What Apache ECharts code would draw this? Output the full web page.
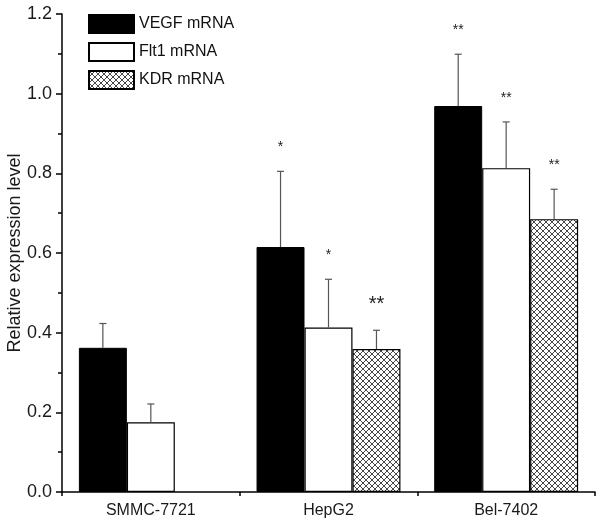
<!DOCTYPE html>
<html><head><meta charset="utf-8">
<script src="https://cdn.jsdelivr.net/npm/echarts@6/dist/echarts.min.js"></script>
<style>html,body{margin:0;padding:0;background:#fff}#c{width:600px;height:525px}</style>
</head><body><div id="c"></div>
<script>
var categories = ['SMMC-7721', 'HepG2', 'Bel-7402'];
var seriesNames = ['VEGF mRNA', 'Flt1 mRNA', 'KDR mRNA'];
var vegf = [0.362, 0.615, 0.969];
var flt1 = [0.175, 0.413, 0.813];
var kdr = [null, 0.359, 0.685];
var vegfErr = [0.061, 0.190, 0.130];
var flt1Err = [0.046, 0.121, 0.116];
var kdrErr = [null, 0.047, 0.075];
var vegfSig = ['', '*', '**'];
var flt1Sig = ['', '*', '**'];
var kdrSig = ['', '**', '**'];
var yTicks = [0.0, 0.2, 0.4, 0.6, 0.8, 1.0, 1.2];

function hatch() {
  var c = document.createElement('canvas');
  c.width = 6; c.height = 6;
  var g = c.getContext('2d');
  g.fillStyle = '#fff'; g.fillRect(0, 0, 6, 6);
  g.strokeStyle = '#333'; g.lineWidth = 0.9;
  g.beginPath();
  g.moveTo(0, 0); g.lineTo(6, 6);
  g.moveTo(6, 0); g.lineTo(0, 6);
  g.stroke();
  return c;
}
var pattern = { image: hatch(), repeat: 'repeat' };

var CAT_GAP = 0.19;
var font = 'Liberation Sans, Arial, sans-serif';

function errSeries(vals, errs, sigs, k) {
  var data = [];
  for (var i = 0; i < vals.length; i++) {
    if (vals[i] == null) continue;
    data.push([i, vals[i], errs[i], sigs[i]]);
  }
  return {
    type: 'custom', xAxisIndex: 0, yAxisIndex: 0, z: 5, silent: true,
    data: data,
    renderItem: function (params, api) {
      var ci = api.value(0), v = api.value(1), e = api.value(2);
      var sig = data[params.dataIndex][3];
      var band = api.size([1, 0])[0];
      var bw = band * (1 - CAT_GAP) / 3;
      var base = api.coord([ci, v]);
      var top = api.coord([ci, v + e]);
      var x = base[0] + (k - 1) * bw;
      var children = [
        { type: 'line', shape: { x1: x, y1: base[1], x2: x, y2: top[1] }, style: { stroke: '#555', lineWidth: 1.2 } },
        { type: 'line', shape: { x1: x - 3.5, y1: top[1], x2: x + 3.5, y2: top[1] }, style: { stroke: '#555', lineWidth: 1.2 } }
      ];
      if (sig) {
        var big = (k === 2 && ci === 1);
        children.push({ type: 'text', style: { text: sig, x: x, y: top[1] - (big ? 26 : 24), align: 'center', verticalAlign: 'middle', fill: '#222', font: (big ? '20px ' : '14px ') + font } });
      }
      return { type: 'group', children: children };
    }
  };
}

var chart = echarts.init(document.getElementById('c'), null, { renderer: 'canvas' });
chart.setOption({
  animation: false,
  backgroundColor: '#fff',
  textStyle: { fontFamily: font },
  grid: { left: 62, right: 5, top: 14, bottom: 33, containLabel: false, outerBoundsMode: 'none' },
  legend: {
    orient: 'vertical', left: 83, top: 9, itemWidth: 45, itemHeight: 18, itemGap: 8,
    icon: 'rect',
    textStyle: { fontSize: 16, color: '#111', fontFamily: font },
    data: seriesNames
  },
  xAxis: [{
    type: 'category', data: categories,
    axisLine: { lineStyle: { color: '#000', width: 1.5 } },
    axisTick: { alignWithLabel: true, length: 6, lineStyle: { color: '#000', width: 1.5 } },
    axisLabel: { fontSize: 16, color: '#1a1a1a', margin: 11, fontFamily: font }
  }, {
    type: 'category', data: categories, position: 'bottom', offset: 0,
    axisLine: { show: false },
    axisTick: { show: true, length: 4, lineStyle: { color: '#000', width: 1.5 } },
    axisLabel: { show: false }
  }],
  yAxis: {
    type: 'value', min: 0, max: 1.2, interval: 0.2,
    name: 'Relative expression level', nameLocation: 'middle', nameGap: 38, nameMoveOverlap: false,
    nameTextStyle: { fontSize: 18, color: '#1a1a1a', fontFamily: font },
    axisLine: { show: true, lineStyle: { color: '#000', width: 1.5 } },
    axisTick: { show: true, length: 6, lineStyle: { color: '#000', width: 1.5 } },
    minorTick: { show: true, splitNumber: 2, length: 4, lineStyle: { color: '#000', width: 1.5 } },
    splitLine: { show: false },
    axisLabel: { fontSize: 18, color: '#1a1a1a', margin: 10, fontFamily: font, formatter: function (v) { return v.toFixed(1); } }
  },
  series: [
    { name: seriesNames[0], type: 'bar', data: vegf, barGap: '0%', barCategoryGap: (CAT_GAP * 100) + '%',
      itemStyle: { color: '#000', borderColor: '#000', borderWidth: 1 } },
    { name: seriesNames[1], type: 'bar', data: flt1, barGap: '0%', barCategoryGap: (CAT_GAP * 100) + '%',
      itemStyle: { color: '#fff', borderColor: '#000', borderWidth: 1.2 } },
    { name: seriesNames[2], type: 'bar', data: kdr, barGap: '0%', barCategoryGap: (CAT_GAP * 100) + '%',
      itemStyle: { color: pattern, borderColor: '#000', borderWidth: 1.2 } },
    errSeries(vegf, vegfErr, vegfSig, 0),
    errSeries(flt1, flt1Err, flt1Sig, 1),
    errSeries(kdr, kdrErr, kdrSig, 2)
  ]
});
</script></body></html>
